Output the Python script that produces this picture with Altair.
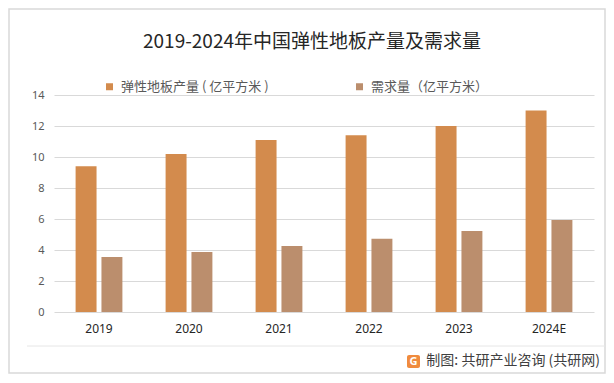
import altair as alt
import pandas as pd

years = ["2019", "2020", "2021", "2022", "2023", "2024E"]
series = ["弹性地板产量 ( 亿平方米 )", "需求量（亿平方米）"]
production = [9.4, 10.2, 11.1, 11.4, 12.0, 13.0]
demand = [3.55, 3.87, 4.26, 4.73, 5.23, 5.94]
colors = ["#D38B4D", "#BB8E6D"]
title_text = "2019-2024年中国弹性地板产量及需求量"
source_text = "制图: 共研产业咨询 (共研网)"

rows = []
for i, y in enumerate(years):
    rows.append({"year": y, "series": series[0], "value": production[i]})
    rows.append({"year": y, "series": series[1], "value": demand[i]})
df = pd.DataFrame(rows)

CJK = "Noto Sans CJK SC"
NUM = "Noto Sans"

bars = alt.Chart(df).mark_bar().encode(
    x=alt.X("year:N", sort=years,
            scale=alt.Scale(paddingInner=0.48, paddingOuter=0.24),
            axis=alt.Axis(title=None, labelAngle=0, ticks=False, domain=False,
                          labelFont=NUM, labelFontSize=12, labelColor="#262626",
                          labelPadding=11)),
    xOffset=alt.XOffset("series:N", sort=series,
                        scale=alt.Scale(paddingInner=0.19, paddingOuter=0)),
    y=alt.Y("value:Q", scale=alt.Scale(domain=[0, 14]),
            axis=alt.Axis(title=None, values=[0, 2, 4, 6, 8, 10, 12, 14],
                          ticks=False, domain=False, gridColor="#D9D9D9",
                          labelFont=NUM, labelFontSize=11, labelColor="#595959",
                          labelPadding=10)),
    color=alt.Color("series:N", sort=series,
                    scale=alt.Scale(domain=series, range=colors),
                    legend=alt.Legend(title=None, orient="none", legendX=49, legendY=-15,
                                      direction="horizontal", symbolType="square",
                                      symbolSize=49, symbolStrokeWidth=0,
                                      labelFont=CJK, labelFontSize=13,
                                      labelColor="#595959", columnPadding=84,
                                      labelOffset=5, labelLimit=300)),
)

deco = pd.DataFrame({"k": [0]})

frame = alt.Chart(deco).mark_rect(fill=None, stroke="#D9D9D9", strokeWidth=1.5).encode(
    x=alt.value(-45), x2=alt.value(551), y=alt.value(-86), y2=alt.value(278)
)

sep = alt.Chart(deco).mark_rule(color="#E6E6E6", strokeWidth=1).encode(
    x=alt.value(-27), x2=alt.value(551), y=alt.value(251)
)

title = alt.Chart(deco).mark_text(
    text=title_text, align="center", baseline="middle", font=CJK, fontSize=19,
    color="#262626"
).encode(x=alt.value(258), y=alt.value(-53))

source = alt.Chart(deco).mark_text(
    text=source_text, align="right", baseline="middle", font=CJK, fontSize=14,
    color="#404040"
).encode(x=alt.value(546), y=alt.value(266))

logo = alt.Chart(deco).mark_rect(fill="#F08B3E", cornerRadius=2).encode(
    x=alt.value(353), x2=alt.value(366), y=alt.value(260), y2=alt.value(273)
)
logo_g = alt.Chart(deco).mark_text(
    text="G", align="center", baseline="middle", font=NUM, fontSize=11,
    fontWeight="bold", color="white"
).encode(x=alt.value(359.5), y=alt.value(267))

chart = alt.layer(frame, sep, bars, title, logo, logo_g, source).properties(
    width=540, height=217,
    padding={"left": 46, "top": 87, "right": 12, "bottom": 62},
    autosize=alt.AutoSizeParams(type="none"),
).configure_view(stroke=None)

chart.save("out.html", embed_options={"renderer": "svg", "actions": False})
